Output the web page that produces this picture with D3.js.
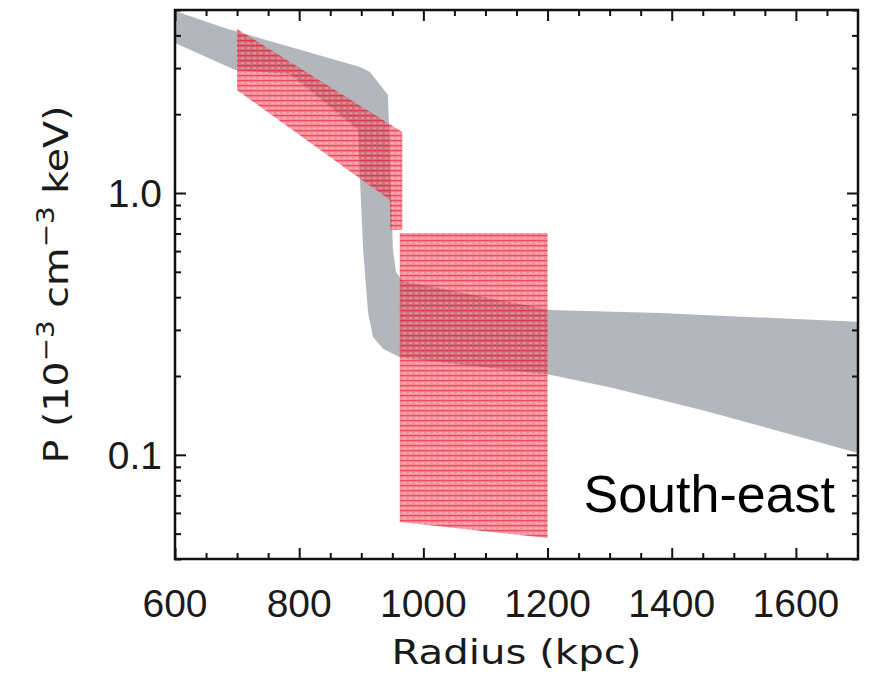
<!DOCTYPE html>
<html><head><meta charset="utf-8">
<script src="https://cdn.jsdelivr.net/npm/d3@7"></script>
<style>body{margin:0;background:#fff} svg{display:block}</style>
</head><body><svg id="c" width="875" height="676"></svg>
<script>
// ---- data ----
const xDomain = [600, 1700];
const yDomain = [0.04, 5];
const xMajorTicks = [600, 800, 1000, 1200, 1400, 1600];
const xMinorTicks = d3.range(650, 1700, 50).filter(v => v % 200 !== 0);
const yMajorTicks = [0.1, 1.0];
const yTickLabels = ["0.1", "1.0"];
const yMinorTicks = [0.04,0.05,0.06,0.07,0.08,0.09,0.2,0.3,0.4,0.5,0.6,0.7,0.8,0.9,2,3,4,5];
const xTitle = "Radius (kpc)";
const yTitleParts = ["P (10", "\u22123", " cm", "\u22123", " keV)"];
const regionLabel = "South-east";

// gray model band (upper / lower boundary)
const grayUpperR = [600, 680, 842, 898, 914, 943, 951, 956, 966, 1204, 1381, 1700];
const grayUpperP = [4.96, 4.27, 3.31, 3.03, 2.90, 2.37, 0.606, 0.499, 0.461, 0.357, 0.348, 0.322];
const grayLowerR = [600, 697, 785, 895, 898, 903, 911, 919, 935, 962, 1204, 1300, 1450, 1700];
const grayLowerP = [3.74, 2.95, 2.85, 1.74, 1.12, 0.606, 0.348, 0.282, 0.254, 0.236, 0.202, 0.181, 0.148, 0.1016];

// red hatched regions (measured)
const red1UpperR = [700, 966];
const red1UpperP = [4.23, 1.71];
const red1LowerR = [700, 946, 947, 966];
const red1LowerP = [2.47, 0.94, 0.722, 0.722];
const red2UpperR = [962, 1200];
const red2UpperP = [0.703, 0.703];
const red2LowerR = [962, 1200];
const red2LowerP = [0.0554, 0.0481];

// ---- layout ----
const L = 175, R = 858, T = 10, B = 559;
const svg = d3.select("#c");
const x = d3.scaleLinear().domain(xDomain).range([L, R]);
const y = d3.scaleLog().domain(yDomain).range([B, T]);

const defs = svg.append("defs");
const cp = defs.append("clipPath").attr("id", "clip");
cp.append("rect").attr("x", L).attr("y", T).attr("width", R - L).attr("height", B - T);
const pat = defs.append("pattern").attr("id", "hatch").attr("width", 6).attr("height", 5)
  .attr("patternUnits", "userSpaceOnUse");
pat.append("rect").attr("width", 6).attr("height", 5).attr("fill", "rgb(238,50,70)").attr("fill-opacity", 0.55);
pat.append("rect").attr("x", 0).attr("y", 0).attr("width", 6).attr("height", 1.3).attr("fill", "rgb(215,0,25)").attr("fill-opacity", 0.45);
pat.append("rect").attr("x", 1).attr("y", 2.6).attr("width", 3).attr("height", 1).attr("fill", "#fff").attr("fill-opacity", 0.45);

const line = d3.line().x(d => x(d[0])).y(d => y(d[1]));
function polygon(uR, uP, lR, lP) {
  const up = uR.map((r, i) => [r, uP[i]]);
  const lo = lR.map((r, i) => [r, lP[i]]).reverse();
  return line(up.concat(lo)) + "Z";
}

const g = svg.append("g").attr("clip-path", "url(#clip)");
g.append("path").attr("d", polygon(grayUpperR, grayUpperP, grayLowerR, grayLowerP))
  .attr("fill", "#b3b6bb");
g.append("path").attr("d", polygon(red1UpperR, red1UpperP, red1LowerR, red1LowerP))
  .attr("fill", "url(#hatch)");
g.append("path").attr("d", polygon(red2UpperR, red2UpperP, red2LowerR, red2LowerP))
  .attr("fill", "url(#hatch)");

// ---- axes ----
const axW = 2.5;
function styleAxis(sel) {
  sel.select(".domain").remove();
  sel.selectAll(".tick line").attr("stroke", "#111").attr("stroke-width", 2);
  sel.selectAll(".tick text").remove();
}
svg.append("g").attr("transform", `translate(0,${B})`)
  .call(d3.axisBottom(x).tickValues(xMajorTicks).tickSize(-11)).call(styleAxis);
svg.append("g").attr("transform", `translate(0,${B})`)
  .call(d3.axisBottom(x).tickValues(xMinorTicks).tickSize(-6)).call(styleAxis);
svg.append("g").attr("transform", `translate(0,${T})`)
  .call(d3.axisTop(x).tickValues(xMajorTicks).tickSize(-11)).call(styleAxis);
svg.append("g").attr("transform", `translate(0,${T})`)
  .call(d3.axisTop(x).tickValues(xMinorTicks).tickSize(-6)).call(styleAxis);
svg.append("g").attr("transform", `translate(${L},0)`)
  .call(d3.axisLeft(y).tickValues(yMajorTicks).tickSize(-11)).call(styleAxis);
svg.append("g").attr("transform", `translate(${L},0)`)
  .call(d3.axisLeft(y).tickValues(yMinorTicks).tickSize(-6)).call(styleAxis);
svg.append("g").attr("transform", `translate(${R},0)`)
  .call(d3.axisRight(y).tickValues(yMajorTicks).tickSize(-11)).call(styleAxis);
svg.append("g").attr("transform", `translate(${R},0)`)
  .call(d3.axisRight(y).tickValues(yMinorTicks).tickSize(-6)).call(styleAxis);

svg.append("rect").attr("x", L).attr("y", T).attr("width", R - L).attr("height", B - T)
  .attr("fill", "none").attr("stroke", "#111").attr("stroke-width", axW);

// tick labels
const tickFont = "'Liberation Sans', Arial, sans-serif";
svg.append("g").selectAll("text").data(xMajorTicks).join("text")
  .attr("x", d => x(d)).attr("y", 617).attr("text-anchor", "middle")
  .attr("font-family", tickFont).attr("font-size", 39).attr("fill", "#1a1a1a")
  .text(d => d);
svg.append("g").selectAll("text").data(yMajorTicks).join("text")
  .attr("x", 162).attr("y", d => y(d) + 14).attr("text-anchor", "end")
  .attr("font-family", tickFont).attr("font-size", 39).attr("fill", "#1a1a1a")
  .text((d, i) => yTickLabels[i]);

// axis titles
const titleFont = "'DejaVu Sans', sans-serif";
svg.append("text").attr("x", (L + R) / 2).attr("y", 664).attr("text-anchor", "middle")
  .attr("font-family", titleFont).attr("font-size", 34).attr("fill", "#1a1a1a")
  .attr("textLength", 250).attr("lengthAdjust", "spacingAndGlyphs")
  .text(xTitle);

const yt = svg.append("text").attr("transform", `translate(68,${(T + B) / 2}) rotate(-90)`)
  .attr("text-anchor", "middle").attr("font-family", titleFont).attr("font-size", 34)
  .attr("fill", "#1a1a1a").attr("textLength", 358).attr("lengthAdjust", "spacingAndGlyphs");
yTitleParts.forEach((t, i) => {
  const sup = i % 2 === 1;
  yt.append("tspan").attr("font-size", sup ? 24 : 34)
    .attr("dy", sup ? -14 : (i === 0 ? 0 : 14)).text(t);
});

// region label
svg.append("text").attr("x", 835).attr("y", 512).attr("text-anchor", "end")
  .attr("font-family", "'Liberation Sans', Arial, sans-serif").attr("font-size", 52)
  .attr("fill", "#000").text(regionLabel);
</script>
</body></html>
